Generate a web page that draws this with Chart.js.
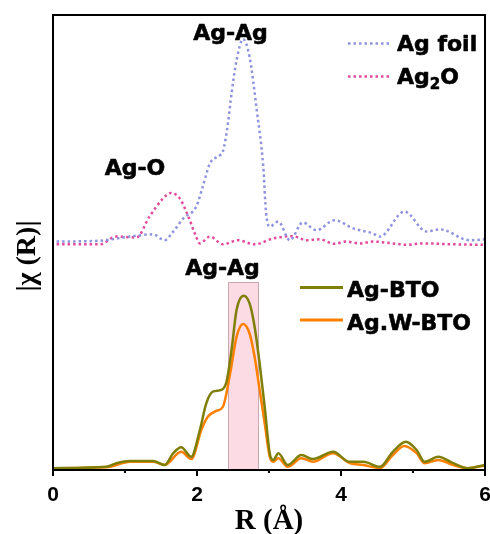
<!DOCTYPE html>
<html>
<head>
<meta charset="utf-8">
<script src="https://cdn.jsdelivr.net/npm/chart.js@4/dist/chart.umd.min.js"></script>
<style>
  html, body { margin: 0; padding: 0; background: #fff; }
  #wrap { width: 490px; height: 534px; }
</style>
</head>
<body>
<div id="wrap"><canvas id="c" width="490" height="534"></canvas></div>
<script>
// Fourier-transformed EXAFS magnitude |χ(R)|, references offset above the samples
const agFoilR   = [0.05, 0.65, 1.07, 1.39, 1.55, 1.67, 1.81, 1.99, 2.08, 2.18, 2.32, 2.36, 2.43, 2.48, 2.55, 2.64, 2.73, 2.83, 2.92, 2.96, 3.01, 3.13, 3.29, 3.47, 3.66, 3.91, 4.17, 4.44, 4.54, 4.88, 5.19, 5.37, 5.79, 6.0];
const agFoilChi = [5.02, 5.04, 5.13, 5.18, 5.05, 5.24, 5.53, 5.79, 6.23, 6.74, 6.92, 7.00, 7.62, 8.28, 9.01, 9.47, 9.08, 7.91, 6.67, 5.64, 5.35, 5.46, 5.05, 5.44, 5.27, 5.49, 5.31, 5.20, 5.13, 5.68, 5.24, 5.29, 5.05, 5.07];

const ag2oR   = [0.05, 0.65, 0.88, 1.16, 1.34, 1.53, 1.64, 1.76, 1.88, 1.97, 2.04, 2.18, 2.36, 2.57, 2.80, 3.06, 3.33, 3.52, 3.70, 3.91, 4.07, 4.26, 4.44, 4.72, 4.91, 5.14, 5.56, 5.97];
const ag2oChi = [4.96, 4.96, 5.13, 5.11, 5.57, 5.97, 6.09, 5.97, 5.57, 5.20, 4.98, 5.13, 4.96, 5.05, 4.96, 5.09, 5.14, 5.05, 5.07, 4.97, 5.02, 4.98, 5.02, 4.98, 4.95, 4.98, 4.96, 4.95];

const agBtoR   = [0.0, 0.74, 0.88, 1.07, 1.39, 1.55, 1.67, 1.78, 1.92, 2.04, 2.13, 2.22, 2.34, 2.41, 2.48, 2.55, 2.65, 2.73, 2.80, 2.87, 2.94, 3.01, 3.06, 3.13, 3.26, 3.45, 3.61, 3.89, 4.12, 4.31, 4.54, 4.72, 4.90, 5.05, 5.16, 5.35, 5.56, 5.76, 6.0];
const agBtoChi = [0.04, 0.07, 0.15, 0.20, 0.20, 0.11, 0.37, 0.50, 0.29, 0.88, 1.47, 1.72, 1.76, 1.94, 2.64, 3.52, 3.83, 3.66, 3.15, 2.34, 1.39, 0.37, 0.22, 0.37, 0.11, 0.33, 0.24, 0.40, 0.18, 0.18, 0.07, 0.40, 0.62, 0.44, 0.18, 0.29, 0.15, 0.04, 0.11];

const agWBtoR   = [0.0, 0.74, 1.07, 1.39, 1.55, 1.78, 1.92, 2.06, 2.15, 2.27, 2.36, 2.46, 2.55, 2.64, 2.73, 2.80, 2.87, 2.94, 3.01, 3.06, 3.13, 3.26, 3.45, 3.61, 3.89, 4.12, 4.31, 4.54, 4.72, 4.88, 5.05, 5.16, 5.35, 5.56, 5.76, 6.0];
const agWBtoChi = [0.04, 0.06, 0.18, 0.18, 0.11, 0.40, 0.24, 0.88, 1.17, 1.30, 1.39, 2.12, 2.93, 3.21, 3.00, 2.49, 1.76, 1.03, 0.29, 0.18, 0.26, 0.07, 0.26, 0.18, 0.37, 0.15, 0.11, 0.04, 0.33, 0.53, 0.37, 0.15, 0.22, 0.11, 0.04, 0.10];

const xTicks = [0, 2, 4, 6];
// Ag–Ag shell window highlighted under the sample curves
const shellWindow = { from: 2.43, to: 2.85, height: 4.13 };

const toPoints = (xs, ys) => xs.map((x, i) => ({ x, y: ys[i] }));

const COLORS = {
  foil: '#8e93df',
  oxide: '#e2489b',
  bto: '#7f7f08',
  wbto: '#ff8000'
};
const TEXT_FONT = 'bold 22px "DejaVu Sans", sans-serif';

// bold label with a thin outline so it reads heavier
function heavyText(ctx, text, x, y) {
  ctx.fillText(text, x, y);
  ctx.strokeText(text, x, y);
}

const decorPlugin = {
  id: 'decor',
  beforeDatasetsDraw(chart) {
    const { ctx, scales: { x, y } } = chart;
    const l = x.getPixelForValue(shellWindow.from);
    const r = x.getPixelForValue(shellWindow.to);
    const t = y.getPixelForValue(shellWindow.height);
    const b = y.getPixelForValue(0);
    ctx.save();
    ctx.fillStyle = '#fcdbe4';
    ctx.fillRect(l, t, r - l, b - t);
    ctx.strokeStyle = '#c9a9b1';
    ctx.lineWidth = 1;
    ctx.strokeRect(Math.round(l) + 0.5, Math.round(t) + 0.5, Math.round(r - l), Math.round(b - t));
    ctx.restore();
  },
  afterDraw(chart) {
    const { ctx, chartArea: a, scales: { x } } = chart;
    ctx.save();
    // frame
    ctx.strokeStyle = '#000';
    ctx.lineWidth = 2;
    ctx.strokeRect(a.left, a.top, a.right - a.left, a.bottom - a.top);
    // major and minor ticks on R axis
    for (let v = 0; v <= 6; v++) {
      const px = x.getPixelForValue(v);
      const len = v % 2 === 0 ? 6 : 3;
      ctx.beginPath();
      ctx.moveTo(px, a.bottom);
      ctx.lineTo(px, a.bottom + len);
      ctx.stroke();
    }
    // y axis title
    ctx.fillStyle = '#000';
    ctx.font = 'bold 28px "Liberation Serif", "Times New Roman", serif';
    ctx.textAlign = 'center';
    ctx.textBaseline = 'middle';
    ctx.translate(28, 256);
    ctx.rotate(-Math.PI / 2);
    ctx.fillText('|\u03c7 (R)|', 0, 0);
    ctx.restore();

    // peak annotations
    ctx.save();
    ctx.fillStyle = '#000';
    ctx.strokeStyle = '#000';
    ctx.lineWidth = 0.6;
    ctx.lineJoin = 'round';
    ctx.font = TEXT_FONT;
    ctx.textAlign = 'center';
    ctx.textBaseline = 'alphabetic';
    heavyText(ctx, 'Ag-Ag', 230.5, 40);
    heavyText(ctx, 'Ag-O', 135, 175);
    heavyText(ctx, 'Ag-Ag', 222.5, 275);

    // legends
    const legendLine = (x0, x1, yy, color, dotted) => {
      ctx.save();
      ctx.strokeStyle = color;
      ctx.lineWidth = dotted ? 2.5 : 3;
      if (dotted) ctx.setLineDash([2.5, 3]);
      ctx.beginPath();
      ctx.moveTo(x0, yy);
      ctx.lineTo(x1, yy);
      ctx.stroke();
      ctx.restore();
    };
    ctx.textAlign = 'left';
    legendLine(348, 390, 43.5, COLORS.foil, true);
    heavyText(ctx, 'Ag foil', 397, 51);
    legendLine(348, 390, 76.5, COLORS.oxide, true);
    let tx = 397;
    heavyText(ctx, 'Ag', tx, 84);
    tx += ctx.measureText('Ag').width;
    ctx.font = 'bold 15px "DejaVu Sans", sans-serif';
    heavyText(ctx, '2', tx, 89);
    tx += ctx.measureText('2').width;
    ctx.font = TEXT_FONT;
    heavyText(ctx, 'O', tx, 84);

    legendLine(300, 343, 287.5, COLORS.bto, false);
    heavyText(ctx, 'Ag-BTO', 347, 297);
    legendLine(300, 343, 320, COLORS.wbto, false);
    heavyText(ctx, 'Ag.W-BTO', 347, 329.5);
    ctx.restore();
  }
};

const lineDs = (label, xs, ys, color, dotted) => ({
  label,
  data: toPoints(xs, ys),
  borderColor: color,
  backgroundColor: color,
  borderWidth: 2.5,
  borderDash: dotted ? [2.5, 3] : [],
  pointRadius: 0,
  tension: 0.4,
  cubicInterpolationMode: 'monotone',
  fill: false
});

new Chart(document.getElementById('c'), {
  type: 'line',
  data: {
    datasets: [
      lineDs('Ag foil', agFoilR, agFoilChi, COLORS.foil, true),
      lineDs('Ag2O', ag2oR, ag2oChi, COLORS.oxide, true),
      lineDs('Ag-BTO', agBtoR, agBtoChi, COLORS.bto, false),
      lineDs('Ag.W-BTO', agWBtoR, agWBtoChi, COLORS.wbto, false)
    ]
  },
  options: {
    responsive: false,
    animation: false,
    layout: { padding: { top: 15, right: 5, left: 0, bottom: 0 } },
    plugins: { legend: { display: false }, tooltip: { enabled: false } },
    scales: {
      x: {
        type: 'linear',
        min: 0,
        max: 6,
        afterFit: s => { s.height = 64; s.paddingLeft = 0; s.paddingRight = 0; },
        afterBuildTicks: s => { s.ticks = xTicks.map(v => ({ value: v })); },
        grid: { display: true, drawOnChartArea: false, drawTicks: true, tickLength: 6, color: 'rgba(0,0,0,0)' },
        border: { display: false },
        ticks: {
          color: '#000',
          padding: 7,
          maxRotation: 0,
          font: { family: '"Liberation Sans", Arial, sans-serif', weight: 'bold', size: 21 }
        },
        title: {
          display: true,
          text: 'R (\u00c5)',
          color: '#000',
          font: { family: '"Liberation Serif", "Times New Roman", serif', weight: 'bold', size: 29, lineHeight: 0.85 },
          padding: { top: 0, bottom: 0 }
        }
      },
      y: {
        type: 'linear',
        min: 0,
        max: 10,
        afterFit: s => { s.width = 53; },
        grid: { display: false },
        border: { display: false },
        ticks: { display: false }
      }
    }
  },
  plugins: [decorPlugin]
});
</script>
</body>
</html>
